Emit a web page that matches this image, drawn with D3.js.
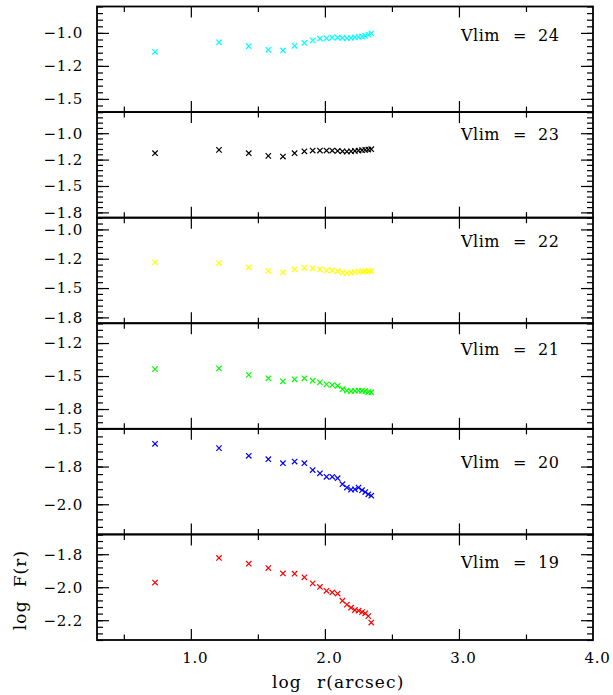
<!DOCTYPE html>
<html>
<head>
<meta charset="utf-8">
<script src="https://cdn.jsdelivr.net/npm/d3@7"></script>
<style>
  body { margin: 0; background: #fff; }
  svg text { font-family: "DejaVu Serif", serif; fill: #000; }
</style>
</head>
<body>
<svg width="613" height="695"></svg>
<script>
// log r (arcsec), same radii in every panel
const logR = [0.733, 1.210, 1.432, 1.578, 1.687, 1.774, 1.847, 1.909, 1.963, 2.012, 2.055,
              2.095, 2.131, 2.164, 2.195, 2.224, 2.251, 2.277, 2.301, 2.324, 2.346];

const vlim24 = [-1.143, -1.071, -1.101, -1.128, -1.133, -1.098, -1.075, -1.056, -1.043, -1.041, -1.035,
                -1.035, -1.038, -1.041, -1.038, -1.033, -1.030, -1.028, -1.023, -1.013, -1.003];
const vlim23 = [-1.189, -1.158, -1.189, -1.215, -1.221, -1.189, -1.171, -1.164, -1.164, -1.164, -1.164,
                -1.168, -1.171, -1.174, -1.171, -1.168, -1.164, -1.161, -1.158, -1.155, -1.152];
const vlim22 = [-1.281, -1.287, -1.324, -1.353, -1.367, -1.341, -1.327, -1.333, -1.341, -1.350, -1.350,
                -1.356, -1.367, -1.373, -1.370, -1.364, -1.361, -1.359, -1.356, -1.356, -1.356];
const vlim21 = [-1.447, -1.442, -1.491, -1.517, -1.540, -1.525, -1.517, -1.535, -1.548, -1.563, -1.569,
                -1.574, -1.600, -1.610, -1.615, -1.612, -1.610, -1.612, -1.615, -1.621, -1.623];
const vlim20 = [-1.599, -1.628, -1.679, -1.701, -1.728, -1.717, -1.728, -1.773, -1.795, -1.818, -1.818,
                -1.827, -1.867, -1.889, -1.903, -1.901, -1.889, -1.907, -1.919, -1.934, -1.943];
const vlim19 = [-1.965, -1.778, -1.822, -1.855, -1.896, -1.898, -1.925, -1.971, -1.998, -2.027, -2.040,
                -2.048, -2.102, -2.132, -2.155, -2.173, -2.178, -2.188, -2.198, -2.219, -2.268];

const panelVlim = ["24", "23", "22", "21", "20", "19"];
const panelSeries = [vlim24, vlim23, vlim22, vlim21, vlim20, vlim19];
const panelColors = ["#00ffff", "#000000", "#ffff00", "#00ff00", "#0000ff", "#ff0000"];
const panelYDomain = [[-1.6, -0.8], [-1.8, -0.8], [-1.8, -0.9], [-1.9, -1.1], [-2.2, -1.5], [-2.4, -1.6]];
const panelYTicks = [[-1.0, -1.25, -1.5], [-1.0, -1.25, -1.5, -1.75], [-1.0, -1.25, -1.5, -1.75],
                     [-1.25, -1.5, -1.75], [-1.5, -1.75, -2.0], [-1.75, -2.0, -2.25]];
const panelYLabels = [["\u22121.0", "\u22121.2", "\u22121.5"], ["\u22121.0", "\u22121.2", "\u22121.5", "\u22121.8"],
                      ["\u22121.0", "\u22121.2", "\u22121.5", "\u22121.8"], ["\u22121.2", "\u22121.5", "\u22121.8"],
                      ["\u22121.5", "\u22121.8", "\u22122.0"], ["\u22121.8", "\u22122.0", "\u22122.2"]];

const xMajor = [1.0, 2.0, 3.0];
const xMinor = [0.5, 1.5, 2.5, 3.5];
const xLabelTicks = [1.0, 2.0, 3.0, 4.0];
const xLabels = ["1.0", "2.0", "3.0", "4.0"];

// layout
const plotLeft = 97, plotRight = 593, plotTop = 6.5, plotBottom = 640;
const labelOffset = [34, 28, 29, 32, 39, 34];

const svg = d3.select("svg");
const x = d3.scaleLinear().domain([0.3, 4.0]).range([plotLeft, plotRight]);
const panelY = d3.scaleLinear().domain([0, 6]).range([plotTop, plotBottom]);

function minorTicks(dom) {
    let out = [];
    let lo = Math.ceil(dom[0] * 20 - 1e-6), hi = Math.floor(dom[1] * 20 + 1e-6);
    for (let k = lo; k <= hi; k++) out.push(k / 20);
    return out;
}

const crossPath = "M-2.7,-2.7L2.7,2.7M-2.7,2.7L2.7,-2.7";

panelSeries.forEach((series, p) => {
    let y0 = panelY(p), y1 = panelY(p + 1);
    let y = d3.scaleLinear().domain(panelYDomain[p]).range([y1, y0]);
    let g = svg.append("g");

    // y ticks, left with labels, right without
    g.append("g").attr("transform", `translate(${plotLeft},0)`)
        .call(d3.axisLeft(y).tickValues(minorTicks(panelYDomain[p])).tickSize(-6).tickFormat(""))
        .call(a => a.select(".domain").remove());
    g.append("g").attr("transform", `translate(${plotLeft},0)`)
        .call(d3.axisLeft(y).tickValues(panelYTicks[p]).tickSize(-12).tickPadding(14)
            .tickFormat((d, i) => panelYLabels[p][i]))
        .call(a => a.select(".domain").remove())
        .call(a => a.selectAll("text").attr("font-size", 15).attr("font-family", "DejaVu Serif")
            .attr("letter-spacing", 0.8));
    g.append("g").attr("transform", `translate(${plotRight},0)`)
        .call(d3.axisRight(y).tickValues(minorTicks(panelYDomain[p])).tickSize(-6).tickFormat(""))
        .call(a => a.select(".domain").remove());
    g.append("g").attr("transform", `translate(${plotRight},0)`)
        .call(d3.axisRight(y).tickValues(panelYTicks[p]).tickSize(-12).tickFormat(""))
        .call(a => a.select(".domain").remove());

    // x ticks top and bottom
    [[y0, d3.axisTop], [y1, d3.axisBottom]].forEach(([yy, ax]) => {
        g.append("g").attr("transform", `translate(0,${yy})`)
            .call(ax(x).tickValues(xMajor).tickSize(-11).tickFormat(""))
            .call(a => a.select(".domain").remove());
        g.append("g").attr("transform", `translate(0,${yy})`)
            .call(ax(x).tickValues(xMinor).tickSize(-5.5).tickFormat(""))
            .call(a => a.select(".domain").remove());
    });
    g.selectAll(".tick line").attr("stroke", "#000").attr("stroke-width", 1.2);

    // panel frame
    g.append("rect")
        .attr("x", plotLeft).attr("y", y0)
        .attr("width", plotRight - plotLeft).attr("height", y1 - y0)
        .attr("fill", "none").attr("stroke", "#000").attr("stroke-width", 1.8);

    // points
    g.append("g").selectAll("path")
        .data(series)
        .enter()
        .append("path")
        .attr("d", crossPath)
        .attr("transform", (d, i) => `translate(${x(logR[i])},${y(d)})`)
        .attr("stroke", panelColors[p])
        .attr("stroke-width", 1.2)
        .attr("fill", "none");

    // panel label
    let ly = y0 + labelOffset[p];
    let lab = g.append("text").attr("y", ly).attr("font-size", 16).attr("letter-spacing", 0.5);
    lab.append("tspan").attr("x", 461).text("Vlim");
    lab.append("tspan").attr("x", 513).text("=");
    lab.append("tspan").attr("x", 538).text(panelVlim[p]);
});

// x tick labels under the last panel
svg.append("g").attr("transform", `translate(0,${plotBottom})`)
    .call(d3.axisBottom(x).tickValues(xLabelTicks).tickSize(0).tickPadding(12)
        .tickFormat((d, i) => xLabels[i]))
    .call(a => a.select(".domain").remove())
    .call(a => a.selectAll("text").attr("font-size", 15).attr("font-family", "DejaVu Serif")
        .attr("letter-spacing", 0.8).attr("dx", 4));

const xTitle = svg.append("text").attr("y", 688).attr("font-size", 17).attr("letter-spacing", 1.1);
xTitle.append("tspan").attr("x", 272).text("log");
xTitle.append("tspan").attr("x", 317).text("r(arcsec)");

svg.append("text")
    .attr("transform", "translate(26,590) rotate(-90)")
    .attr("text-anchor", "middle").attr("font-size", 17).attr("letter-spacing", 1.1)
    .attr("xml:space", "preserve")
    .text("log  F(r)");
</script>
</body>
</html>
